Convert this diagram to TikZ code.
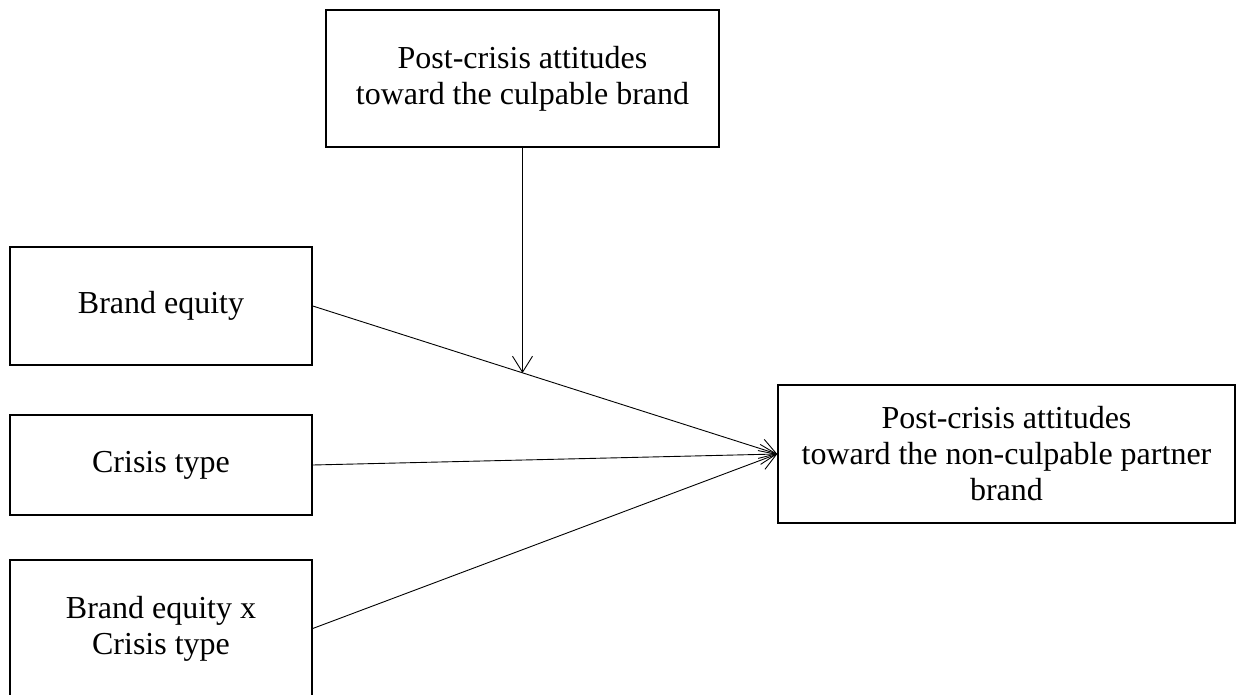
\documentclass[tikz,border=0pt]{standalone}
\usepackage{fontspec}
\setmainfont{Liberation Serif}
\usetikzlibrary{arrows.meta,calc}

\begin{document}
\begin{tikzpicture}[x=1pt, y=-1pt,
  box/.style={draw, line width=1.5pt, inner sep=0pt, align=center,
    font=\fontsize{32}{36}\selectfont},
  path/.style={line width=0.9pt, -{Straight Barb[length=16pt, width=20pt, line width=0.9pt]}}]
\useasboundingbox (0,0) rectangle (1246,695);
\clip (0,0) rectangle (1246,695);

\node[box, minimum width=393pt, minimum height=137pt] (culpable) at (522.5,78.5) {Post-crisis attitudes\\toward the culpable brand};
\node[box, minimum width=302pt, minimum height=118pt] (equity) at (161,306) {Brand equity};
\node[box, minimum width=302pt, minimum height=100pt] (crisis) at (161,465) {Crisis type};
\node[box, minimum width=302pt, minimum height=137pt] (interact) at (161,628.5) {Brand equity x\\Crisis type};
\node[box, minimum width=457pt, minimum height=138pt] (outcome) at (1006.5,454) {Post-crisis attitudes\\toward the non-culpable partner\\brand};

\coordinate (hit) at ($(equity.east)!0.453!(outcome.west)$);

\draw[path] (equity.east) -- (outcome.west);
\draw[path] (crisis.east) -- (outcome.west);
\draw[path] (interact.east) -- (outcome.west);
\draw[path] (culpable.south) -- (culpable.south |- hit);
\end{tikzpicture}
\end{document}
